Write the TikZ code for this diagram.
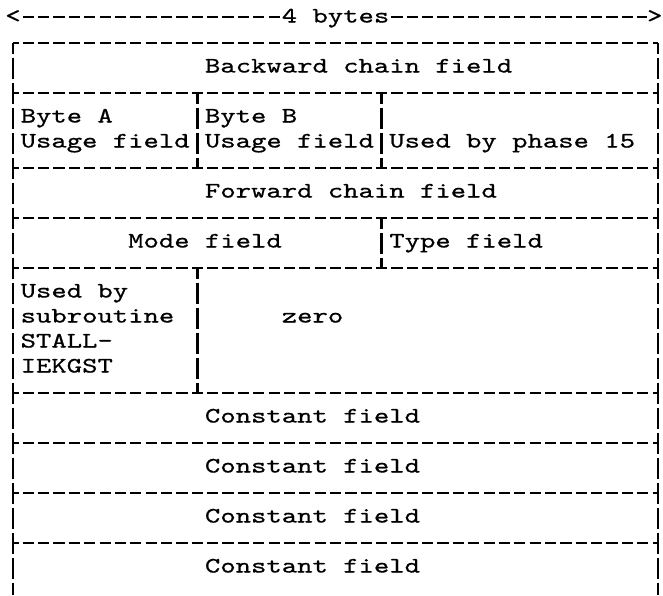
\documentclass[tikz,border=0pt]{standalone}
\usepackage{fontspec}
\newfontfamily\tw[Extension=.otf,FakeStretch=1.33,FakeBold=0.7]{lmmono10-regular}
\begin{document}
\begin{tikzpicture}[x=1pt,y=-1pt,
  txt/.style={anchor=base west,inner sep=0pt,outer sep=0pt,font=\tw\fontsize{22}{25}\selectfont},
  hline/.style={line width=2.7pt,dash pattern=on 11.2pt off 4.16pt,dash phase=5.6pt},
  hline2/.style={line width=2.7pt,dash pattern=on 11.2pt off 4.16pt,dash phase=13.28pt},
  vline/.style={line width=2.6pt,dash pattern=on 21pt off 4pt,dash phase=10.5pt}]
\def\P{15.36}
\useasboundingbox (0,0) rectangle (663,595);
\fill[white] (0,0) rectangle (663,595);
% header
\node[txt] (lt) at ({13-\P/2},22.5) {<};
\node[txt] (four) at ({13+18*\P-\P/2},22.5) {4 bytes};
\node[txt,anchor=base east] (gt) at (662.5,22.5) {>};
\draw[hline2] (lt.east |- 0,17) -- (four.west |- 0,17);
\draw[hline2] (four.east |- 0,17) -- (gt.west |- 0,17);
% horizontal rules
\foreach \y in {43,93,168,218,268,393,443,493,543}
  \draw[hline] (13,\y) -- ({13+42*\P},\y);
% borders
\draw[vline] (13,43) -- (13,595);
\draw[vline] ({13+42*\P},43) -- ({13+42*\P},595);
% dividers
\draw[vline] ({13+12*\P},93) -- ({13+12*\P},168);
\draw[vline] ({13+24*\P},93) -- ({13+24*\P},168);
\draw[vline] ({13+24*\P},218) -- ({13+24*\P},268);
\draw[vline] ({13+12*\P},268) -- ({13+12*\P},393);
% texts
\node[txt] (back) at ({13+13*\P-\P/2},72.5) {Backward chain field};
\node[txt] (bytea) at ({13+1*\P-\P/2},122.5) {Byte A};
\node[txt] (usagea) at ({13+1*\P-\P/2},147.5) {Usage field};
\node[txt] (byteb) at ({13+13*\P-\P/2},122.5) {Byte B};
\node[txt] (usageb) at ({13+13*\P-\P/2},147.5) {Usage field};
\node[txt] (phase) at ({13+25*\P-\P/2},147.5) {Used by phase 15};
\node[txt] (fwd) at ({13+13*\P-\P/2},197.5) {Forward chain field};
\node[txt] (mode) at ({13+8*\P-\P/2},247.5) {Mode field};
\node[txt] (type) at ({13+25*\P-\P/2},247.5) {Type field};
\node[txt] (ub1) at ({13+1*\P-\P/2},297.5) {Used by};
\node[txt] (ub2) at ({13+1*\P-\P/2},322.5) {subroutine};
\node[txt] (ub3) at ({13+1*\P-\P/2},347.5) {STALL-};
\node[txt] (ub4) at ({13+1*\P-\P/2},372.5) {IEKGST};
\node[txt] (zero) at ({13+18*\P-\P/2},322.5) {zero};
\node[txt] (c1) at ({13+13*\P-\P/2},422.5) {Constant field};
\node[txt] (c2) at ({13+13*\P-\P/2},472.5) {Constant field};
\node[txt] (c3) at ({13+13*\P-\P/2},522.5) {Constant field};
\node[txt] (c4) at ({13+13*\P-\P/2},572.5) {Constant field};
\end{tikzpicture}
\end{document}
